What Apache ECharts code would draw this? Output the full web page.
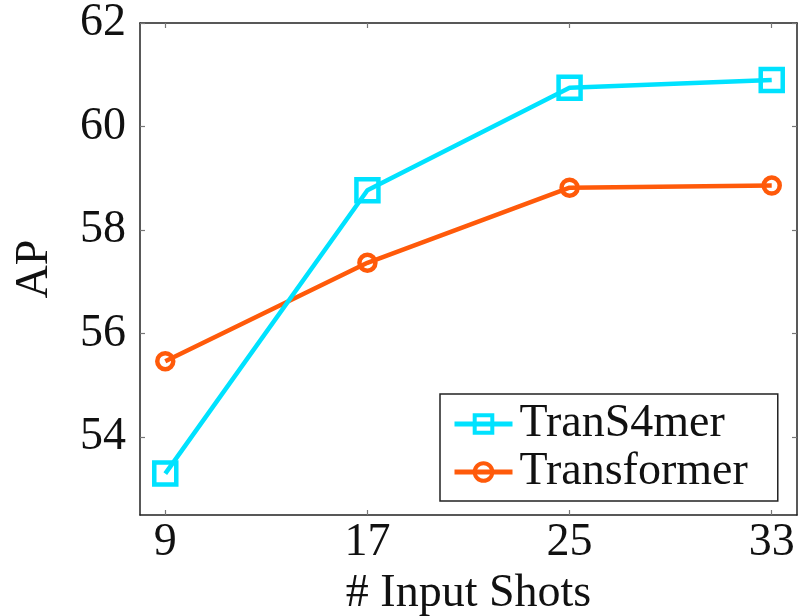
<!DOCTYPE html>
<html>
<head>
<meta charset="utf-8">
<script src="https://cdn.jsdelivr.net/npm/echarts@6/dist/echarts.min.js"></script>
<style>html,body{margin:0;padding:0;background:#fff}#c{width:800px;height:616px}</style>
</head>
<body>
<div id="c"></div>
<script>
const shots = [9, 17, 25, 33];
const trans4mer = [53.3, 58.77, 60.75, 60.9];
const transformer = [55.47, 57.37, 58.82, 58.86];
const yTicks = [54, 56, 58, 60, 62];
const xTicks = [9, 17, 25, 33];

const FONT = '"Liberation Serif", "DejaVu Serif", serif';
const CYAN = '#00e2ff';
const ORANGE = '#ff5a0a';

const chart = echarts.init(document.getElementById('c'));
const tickStyle = {inside: true, length: 5, lineStyle: {color: '#777', width: 1.2}};
const lineAx = {show: true, lineStyle: {color: '#222', width: 1.5}};
chart.setOption({
  animation: false,
  backgroundColor: '#fff',
  grid: {left: 140, top: 23, right: 3, bottom: 101, containLabel: false, outerBoundsMode: 'none'},
  xAxis: [{
    type: 'value', min: 8, max: 34,
    axisLine: lineAx,
    axisTick: Object.assign({customValues: xTicks}, tickStyle),
    axisLabel: {customValues: xTicks, fontFamily: FONT, fontSize: 46, color: '#111', margin: 5},
    splitLine: {show: false},
    name: '# Input Shots', nameLocation: 'middle', nameGap: 53,
    nameTextStyle: {fontFamily: FONT, fontSize: 46, color: '#111'}
  }, {
    type: 'value', min: 8, max: 34, position: 'top',
    axisLine: lineAx,
    axisTick: Object.assign({customValues: xTicks}, tickStyle),
    axisLabel: {show: false}, splitLine: {show: false}
  }],
  yAxis: [{
    type: 'value', min: 52.5, max: 62,
    axisLine: lineAx,
    axisTick: Object.assign({customValues: yTicks}, tickStyle),
    axisLabel: {customValues: yTicks, fontFamily: FONT, fontSize: 46, color: '#111', margin: 14},
    splitLine: {show: false},
    name: 'AP', nameLocation: 'middle', nameGap: 82,
    nameTextStyle: {fontFamily: FONT, fontSize: 46, color: '#111'}
  }, {
    type: 'value', min: 52.5, max: 62, position: 'right',
    axisLine: lineAx,
    axisTick: Object.assign({customValues: yTicks}, tickStyle),
    axisLabel: {show: false}, splitLine: {show: false}
  }],
  legend: {
    left: 440, top: 394, orient: 'vertical',
    backgroundColor: '#fff', borderColor: '#222', borderWidth: 1.5, borderRadius: 0,
    padding: [7, 30, 6, 12], itemGap: 2, itemWidth: 58, itemHeight: 22,
    textStyle: {fontFamily: FONT, fontSize: 46, color: '#111', padding: [0, 0, 0, 2]},
    data: [
      {name: 'TranS4mer', itemStyle: {color: 'rgba(255,255,255,0)', borderColor: CYAN, borderWidth: 4}, lineStyle: {color: CYAN, width: 5}},
      {name: 'Transformer', itemStyle: {color: 'rgba(255,255,255,0)', borderColor: ORANGE, borderWidth: 4}, lineStyle: {color: ORANGE, width: 5}}
    ]
  },
  series: [{
    name: 'TranS4mer', type: 'line',
    data: shots.map((s, i) => [s, trans4mer[i]]),
    symbol: 'rect', symbolSize: 22,
    lineStyle: {color: CYAN, width: 4.5},
    itemStyle: {color: 'rgba(255,255,255,0)', borderColor: CYAN, borderWidth: 4.5},
    z: 3
  }, {
    name: 'Transformer', type: 'line',
    data: shots.map((s, i) => [s, transformer[i]]),
    symbol: 'circle', symbolSize: 16,
    lineStyle: {color: ORANGE, width: 4.5},
    itemStyle: {color: 'rgba(255,255,255,0)', borderColor: ORANGE, borderWidth: 4.5},
    z: 2
  }]
});
</script>
</body>
</html>
